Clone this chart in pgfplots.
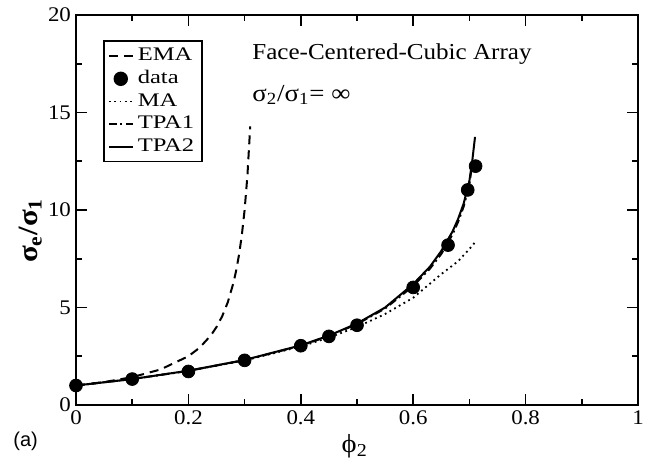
\documentclass[border=0pt]{standalone}
\usepackage{pgfplots}
\pgfplotsset{compat=1.18}
\usepackage{fontspec}
\setmainfont[FakeStretch=1.1]{Liberation Serif}
\newfontfamily\legendfont[FakeStretch=1.28]{Liberation Serif}
\newfontfamily\panelfont{Liberation Sans}

% Effective conductivity of a face-centered-cubic array of perfectly
% conducting spheres: theories vs. simulation data.
\pgfplotstableread{
phi    sig
0      1.000
0.05   1.176
0.10   1.429
0.15   1.818
0.20   2.500
0.22   2.941
0.24   3.571
0.25   4.000
0.26   4.545
0.27   5.263
0.28   6.250
0.285  6.897
0.29   7.692
0.295  8.696
0.30   10.000
0.305  11.765
0.31   14.286
}\ema

\pgfplotstableread{
phi    sig
0      1.00
0.10   1.33
0.20   1.72
0.30   2.29
0.40   3.04
0.45   3.52
0.50   4.09
0.60   6.03
0.662  8.20
0.697  11.03
0.711  12.25
}\data

\pgfplotstableread{
phi    sig
0      1.000
0.10   1.333
0.20   1.750
0.30   2.286
0.40   3.000
0.45   3.455
0.50   4.000
0.55   4.667
0.60   5.500
0.65   6.714
0.68   7.375
0.70   8.000
0.71   8.345
}\ma

\pgfplotstableread{
phi    sig
0      1.00
0.10   1.33
0.20   1.75
0.30   2.30
0.40   3.04
0.45   3.54
0.50   4.15
0.55   4.95
0.60   6.10
0.63   7.00
0.65   7.75
0.67   8.75
0.68   9.40
0.69   10.20
0.70   11.30
0.705  12.40
}\tpaone

\pgfplotstableread{
phi    sig
0      1.00
0.10   1.33
0.20   1.76
0.30   2.31
0.40   3.06
0.45   3.56
0.50   4.18
0.55   5.00
0.60   6.20
0.63   7.10
0.65   7.90
0.67   8.90
0.68   9.55
0.69   10.35
0.70   11.50
0.705  12.50
0.710  13.75
}\tpatwo

\pgfplotsset{
  dot legend/.style={legend image code/.code={\draw[##1] plot coordinates {(6pt,0pt)};}},
}

\begin{document}
\begin{tikzpicture}[x=1pt,y=1pt]
\path[use as bounding box] (0,0) rectangle (325.5,231);
\begin{axis}[
  at={(38pt,28.5pt)}, anchor=south west,
  scale only axis, width=281pt, height=195pt,
  xmin=0, xmax=1, ymin=0, ymax=20,
  xtick={0,0.2,0.4,0.6,0.8,1}, minor x tick num=1,
  ytick={0,5,10,15,20}, minor y tick num=1,
  tick align=inside,
  major tick length=5.4pt, minor tick length=2.8pt,
  axis line style={line width=0.95pt},
  every tick/.style={line width=0.8pt, black},
  /pgf/number format/assume math mode=true,
  ticklabel style={font=\fontsize{10.4}{12}\selectfont},
  xticklabel style={yshift=0.5pt},
  yticklabel style={xshift=1pt},
  xlabel={\fontsize{13}{15}\selectfont ϕ\textsubscript{2}},
  ylabel={\fontsize{14}{16}\selectfont\bfseries σ\textsubscript{e}/σ\textsubscript{1}},
  xlabel style={at={(axis description cs:0.496,0)}, anchor=north, inner sep=0pt, yshift=-14.5pt},
  ylabel style={at={(axis description cs:-0.06,0.447)}, anchor=south, inner sep=0pt},
  legend style={at={(rel axis cs:0.048,0.935)}, anchor=north west,
    draw=black, line width=0.8pt, fill=white,
    font=\legendfont\fontsize{9.6}{10}\selectfont,
    inner xsep=2pt, inner ysep=1.5pt, row sep=-0.6pt,
    /tikz/every even column/.append style={column sep=3pt}},
  legend cell align=left,
  legend image code/.code={\draw[#1] (0pt,0pt) -- (12pt,0pt);},
]
\addplot[black, line width=1pt, dash pattern=on 4.5pt off 3pt] table[x=phi,y=sig] {\ema};
\addlegendentry{EMA}
\addplot[black, only marks, mark=*, mark size=3.2pt, dot legend]
  table[x=phi,y=sig] {\data};
\addlegendentry{data}
\addplot[black, line width=0.9pt, dash pattern=on 0.9pt off 1.8pt] table[x=phi,y=sig] {\ma};
\addlegendentry{MA}
\addplot[black, line width=1pt, dash pattern=on 4pt off 1.8pt on 1pt off 1.8pt] table[x=phi,y=sig] {\tpaone};
\addlegendentry{TPA1}
\addplot[black, line width=1pt] table[x=phi,y=sig] {\tpatwo};
\addlegendentry{TPA2}
\node[anchor=base west, inner sep=0pt, font=\fontsize{11.4}{13}\selectfont]
  at (axis cs:0.313,17.74) {Face-Centered-Cubic Array};
\node[anchor=base west, inner sep=0pt, font=\fontsize{12.2}{14}\selectfont]
  at (axis cs:0.313,15.58) {σ\textsubscript{2}/σ\textsubscript{1}= ∞};
\end{axis}
\node[anchor=base west, inner sep=0pt, font=\panelfont\fontsize{10}{12}\selectfont] at (6.5,8) {(a)};
\end{tikzpicture}
\end{document}
